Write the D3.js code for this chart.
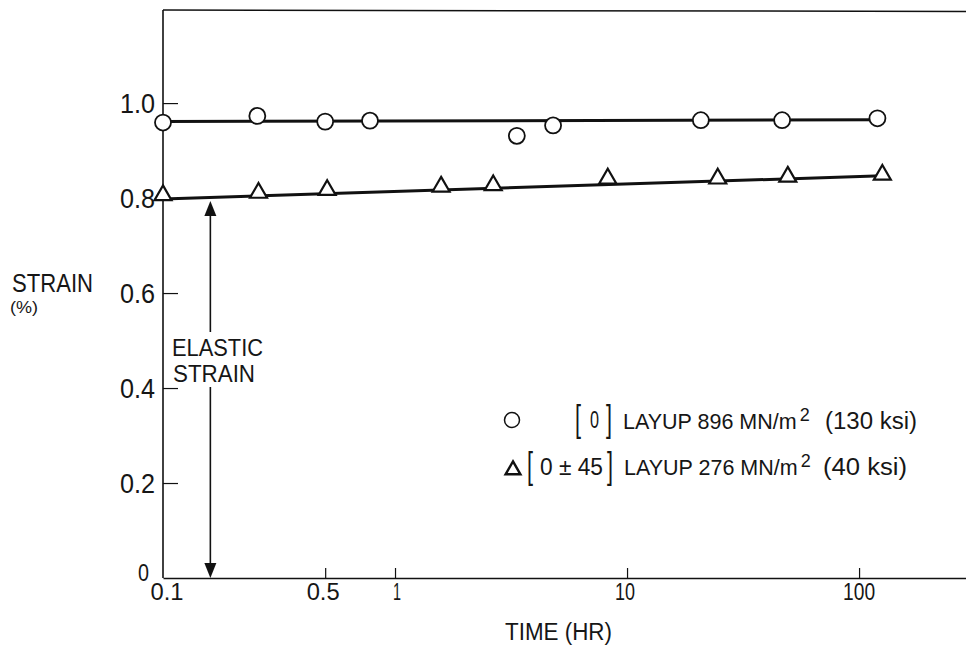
<!DOCTYPE html>
<html><head><meta charset="utf-8">
<script src="https://cdn.jsdelivr.net/npm/d3@7"></script>
<style>
html,body{margin:0;padding:0;background:#fff;}
svg text{font-family:"Liberation Sans","Arimo","DejaVu Sans",sans-serif;font-weight:400;fill:#161616;}
</style></head>
<body><svg id="c" width="966" height="649"></svg>
<script>
// ---- data ----
const circleTime   = [0.1, 0.255, 0.5, 0.78, 3.35, 4.8, 20.8, 46.6, 120];
const circleStrain = [0.959, 0.973, 0.961, 0.963, 0.931, 0.953, 0.964, 0.964, 0.968];
const triTime      = [0.1, 0.258, 0.51, 1.58, 2.65, 8.26, 24.6, 49.3, 126];
const triStrain    = [0.806, 0.811, 0.817, 0.824, 0.827, 0.841, 0.841, 0.845, 0.849];
const circleFitTime = [0.1, 120];
const circleFitStrain = [0.961, 0.965];
const triFitTime = [0.1, 126];
const triFitStrain = [0.798, 0.847];
const xTickValues = [0.1, 0.5, 1, 10, 100];
const xTickLabels = ["0.1", "0.5", "1", "10", "100"];
const yTickValues = [0, 0.2, 0.4, 0.6, 0.8, 1.0];
const yTickLabels = ["0", "0.2", "0.4", "0.6", "0.8", "1.0"];
const elasticTime = 0.16;
const elasticStrain = [0.8, 0];
const legendStress = ["LAYUP 896 MN/m", "LAYUP 276 MN/m"];
const legendKsi = ["(130 ksi)", "(40 ksi)"];
const legendAngles = ["0", "0 ± 45"];

const svg = d3.select("#c");
const x = d3.scaleLog().domain([0.1, 289]).range([163, 966]);
const y = d3.scaleLinear().domain([0, 1.196]).range([578, 10]);

function txt(px, py, s, size, len, anchor) {
  const t = svg.append("text").attr("x", px).attr("y", py).attr("font-size", size)
    .attr("text-anchor", anchor || "start").text(s);
  if (len) t.attr("textLength", len).attr("lengthAdjust", "spacingAndGlyphs");
  return t;
}

// frame: top border
svg.append("line").attr("x1",x(0.1)).attr("x2",966).attr("y1",y(1.196)).attr("y2",y(1.196)+1.5)
  .attr("stroke","#111").attr("stroke-width",1.5);

// x axis
const xAxis = d3.axisBottom(x).tickValues(xTickValues).tickSize(-10).tickSizeOuter(0).tickFormat(()=>"");
const gx = svg.append("g").attr("transform",`translate(0,${y(0)})`).call(xAxis);
gx.select(".domain").attr("stroke","#111").attr("stroke-width",1.6);
gx.selectAll(".tick line").attr("stroke","#111").attr("stroke-width",1.2);
gx.selectAll(".tick").filter(d=>d===0.1).select("line").remove();
const xLabelLen = {"0.1":33, "0.5":33, "1":8, "10":20, "100":32};
const xLabelShift = {"0.1":4, "0.5":-2, "1":2, "10":-2, "100":0};
xTickValues.forEach((v,i)=>{
  const s = xTickLabels[i];
  txt(x(v)+xLabelShift[s], 600, s, 23, xLabelLen[s], "middle");
});

// y axis
const yAxis = d3.axisLeft(y).tickValues(yTickValues).tickSize(-15).tickSizeOuter(0).tickFormat(()=>"");
const gy = svg.append("g").attr("transform",`translate(${x(0.1)},0)`).call(yAxis);
gy.select(".domain").attr("d",`M0,${y(0)}V${y(1.196)}`).attr("stroke","#111").attr("stroke-width",1.6);
gy.selectAll(".tick line").attr("stroke","#111").attr("stroke-width",1.2);
gy.selectAll(".tick").filter(d=>d===0).select("line").remove();
yTickValues.forEach((v,i)=>{
  const s = yTickLabels[i];
  if (v === 0) txt(x(0.1)-14, y(v)+3, s, 23, 11, "end");
  else txt(x(0.1)-8, y(v)+10, s, 27, 35, "end");
});

// axis titles
txt(12, 292, "STRAIN", 25, 81);
txt(10, 313, "(%)", 16, 28);
txt(505, 640, "TIME (HR)", 23, 107);

// fit lines
const line = d3.line().x(d=>x(d[0])).y(d=>y(d[1]));
svg.append("path").datum(circleFitTime.map((t,i)=>[t,circleFitStrain[i]])).attr("d",line)
  .attr("fill","none").attr("stroke","#111").attr("stroke-width",3);
svg.append("path").datum(triFitTime.map((t,i)=>[t,triFitStrain[i]])).attr("d",line)
  .attr("fill","none").attr("stroke","#111").attr("stroke-width",3);

// markers
svg.append("g").selectAll("circle").data(circleTime.map((t,i)=>[t,circleStrain[i]])).join("circle")
  .attr("cx",d=>x(d[0])).attr("cy",d=>y(d[1])).attr("r",8)
  .attr("fill","#fff").attr("stroke","#111").attr("stroke-width",1.8);
const tri = d3.symbol().type(d3.symbolTriangle).size(125);
svg.append("g").selectAll("path").data(triTime.map((t,i)=>[t,triStrain[i]])).join("path")
  .attr("d",tri).attr("transform",d=>`translate(${x(d[0])},${y(d[1])})`)
  .attr("fill","#fff").attr("stroke","#111").attr("stroke-width",2.2);

// elastic strain arrow
const ex = x(elasticTime);
const yTop = y(elasticStrain[0]) + 3, yBot = y(elasticStrain[1]);
svg.append("line").attr("x1",ex).attr("x2",ex).attr("y1",yTop+12).attr("y2",332).attr("stroke","#111").attr("stroke-width",1.6);
svg.append("line").attr("x1",ex).attr("x2",ex).attr("y1",387).attr("y2",yBot-12).attr("stroke","#111").attr("stroke-width",1.6);
svg.append("path").attr("d",`M${ex},${yTop}L${ex-6},${yTop+15}L${ex+6},${yTop+15}Z`).attr("fill","#111");
svg.append("path").attr("d",`M${ex},${yBot}L${ex-6},${yBot-15}L${ex+6},${yBot-15}Z`).attr("fill","#111");
txt(172, 356, "ELASTIC", 23, 91);
txt(173, 382, "STRAIN", 23, 82);

// legend
svg.append("circle").attr("cx",512).attr("cy",420).attr("r",7.5).attr("fill","#fff").attr("stroke","#111").attr("stroke-width",1.5);
svg.append("path").attr("d",d3.symbol().type(d3.symbolTriangle).size(95)).attr("transform","translate(513,470)")
  .attr("fill","#fff").attr("stroke","#111").attr("stroke-width",2.4);
function stressText(px, py, s) {
  const t = svg.append("text").attr("x", px).attr("y", py).attr("font-size", 21.5);
  t.append("tspan").text(s);
  t.append("tspan").attr("dy", -8).attr("dx", 3).attr("font-size", 18).text("2");
  return t;
}
// row 1
txt(575, 431, "[", 36, 6);
txt(590, 428, legendAngles[0], 23, 9);
txt(606, 431, "]", 36, 6);
stressText(623, 429, legendStress[0]);
txt(825, 429, legendKsi[0], 23, 92);
// row 2
txt(527, 478, "[", 36, 6);
txt(540, 475, legendAngles[1], 23, 63);
txt(607, 478, "]", 36, 6);
stressText(624, 475, legendStress[1]);
txt(823, 475, legendKsi[1], 23, 84);
</script></body></html>
